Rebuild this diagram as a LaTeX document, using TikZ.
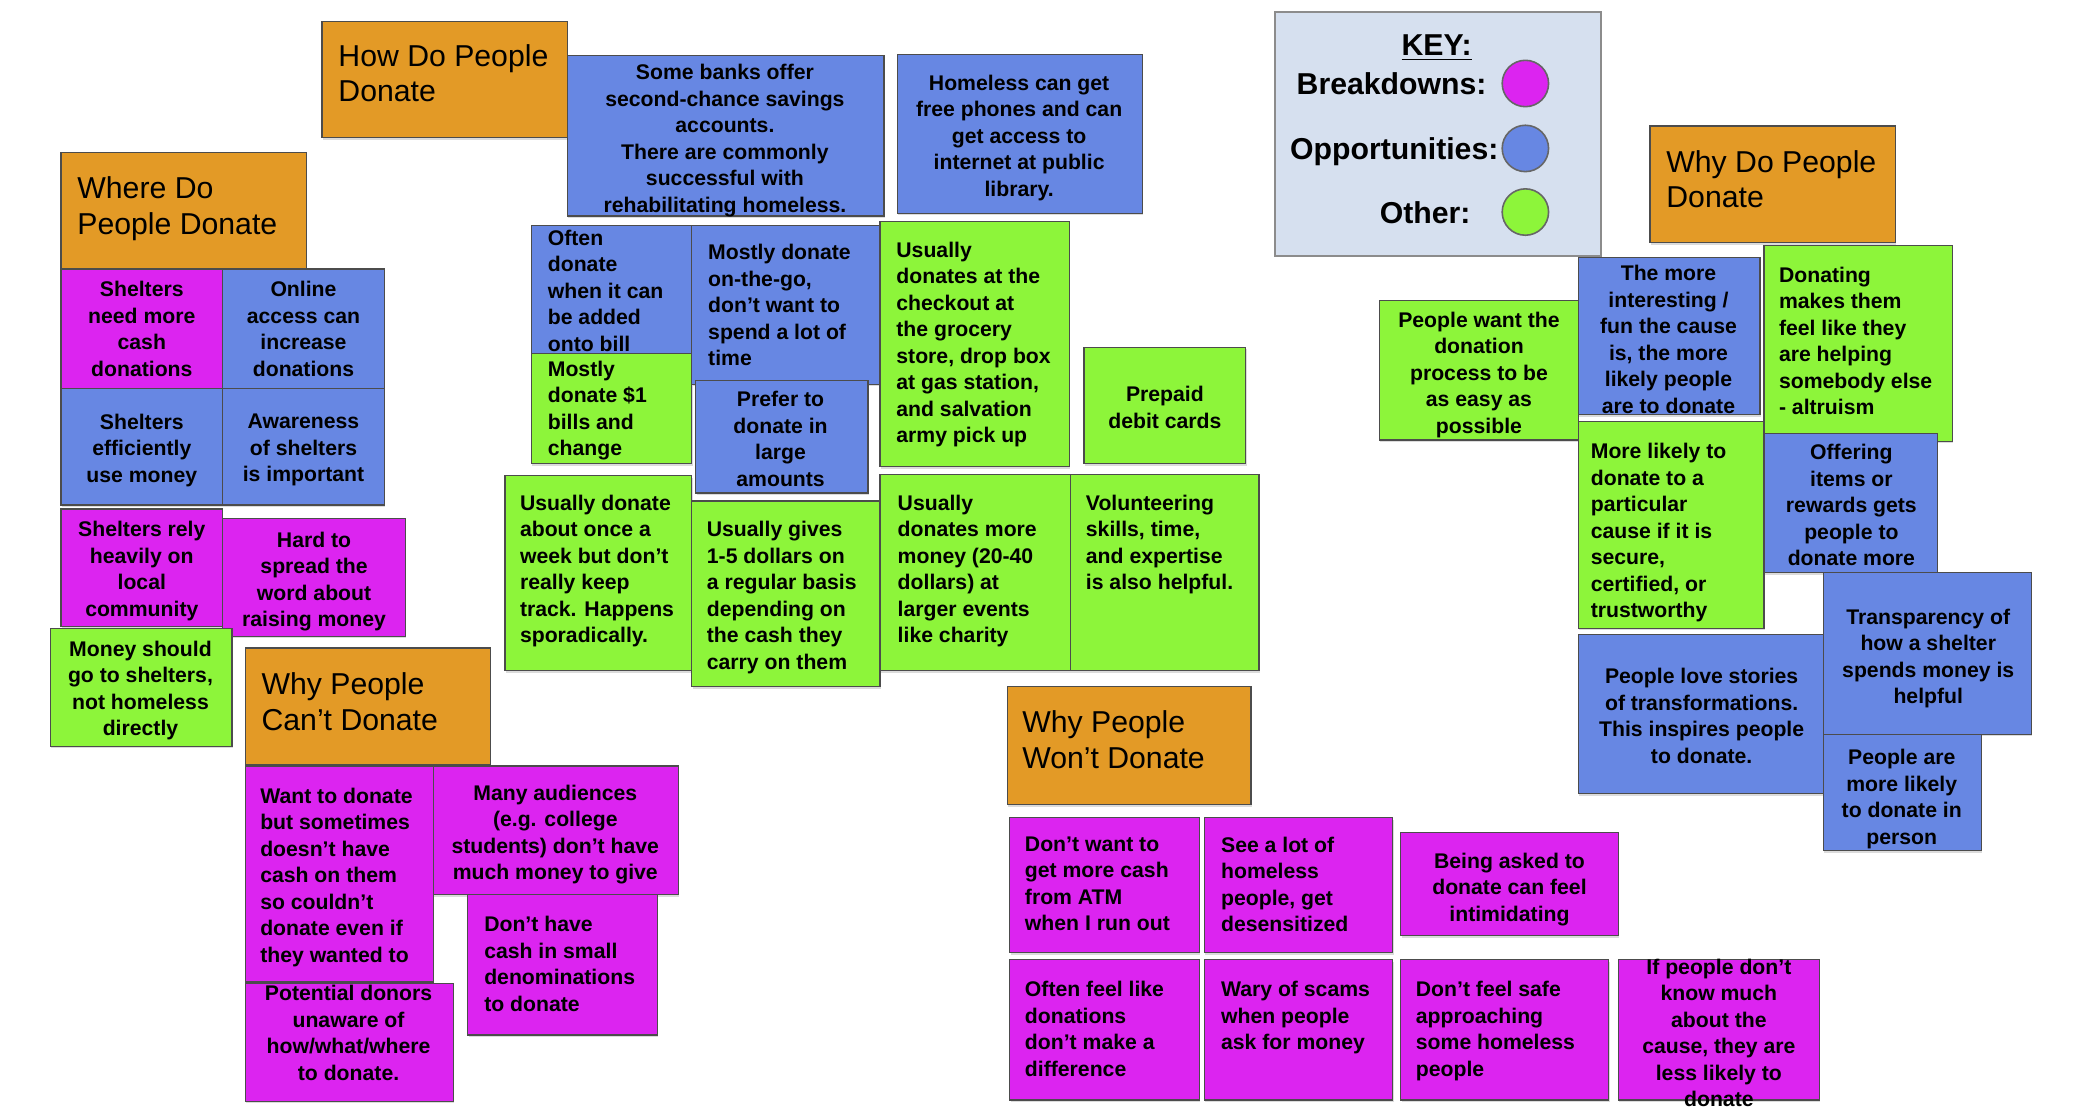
\documentclass[tikz,border=0pt]{standalone}
\usepackage{fontspec}
\setmainfont{Liberation Sans}
\usetikzlibrary{fit,shadows}

\definecolor{headorange}{RGB}{227,154,38}
\definecolor{brkmag}{RGB}{220,36,240}
\definecolor{oppblue}{RGB}{103,135,227}
\definecolor{othgreen}{RGB}{141,245,58}
\definecolor{keybg}{RGB}{214,224,239}

\newcommand\notefont{\bfseries\fontsize{8}{10}\selectfont}
\newcommand\headfont{\fontsize{11.4}{13.5}\selectfont}
\newcommand\keyfont{\bfseries\fontsize{11.4}{13.5}\selectfont}

\begin{document}
\begin{tikzpicture}[x=0.5pt,y=-0.5pt,
  card/.style={draw=black!70, line width=0.45pt, inner sep=0pt, outer sep=0pt,
    drop shadow={shadow xshift=0.3pt, shadow yshift=-0.8pt, opacity=0.28}},
  head/.style={card, fill=headorange},
  brk/.style={card, fill=brkmag},
  opp/.style={card, fill=oppblue},
  oth/.style={card, fill=othgreen},
  txc/.style={font=\notefont, align=center, anchor=north, inner sep=0pt},
  txl/.style={font=\notefont, align=left, anchor=north west, inner sep=0pt},
  txh/.style={font=\headfont, align=left, anchor=north west, inner sep=0pt},
  keytext/.style={font=\keyfont, anchor=base east, inner sep=0pt},
  swatch/.style={circle, draw=black!60, line width=0.6pt, minimum size=17.5pt, inner sep=0pt}
]
% page
\fill[white] (0,0) rectangle (1568,841);
\useasboundingbox (0,0) rectangle (1568,841);

% ---------------- How do people donate ----------------
\node[head, fit={(243,16) (428,104)}] (hHow) {};
\node[txh] (hHow-t) at (255,33) {How Do People\\Donate};

\node[opp, fit={(428,42) (667,163)}] (oBanks) {};
\node[txc] (oBanks-t) at (547,48) {Some banks offer\\second-chance savings\\accounts.\\There are commonly\\successful with\\rehabilitating homeless.};

\node[opp, fit={(677,41) (862,161)}] (oPhones) {};
\node[txc] (oPhones-t) at (769,56) {Homeless can get\\free phones and can\\get access to\\internet at public\\library.};

\node[opp, fit={(401,170) (522,267)}] (oBill) {};
\node[txl] (oBill-t) at (413,173) {Often\\donate\\when it can\\be added\\onto bill};

\node[oth, fit={(401,267) (522,350)}] (gDollar) {};
\node[txl] (gDollar-t) at (413,272) {Mostly\\donate \$1\\bills and\\change};

\node[opp, fit={(522,170) (664,290)}] (oGo) {};
\node[txl] (oGo-t) at (534,184) {Mostly donate\\on-the-go,\\don't want to\\spend a lot of\\time};

\node[opp, fit={(525,287) (655,372)}] (oLarge) {};
\node[txc] (oLarge-t) at (589,295) {Prefer to\\donate in\\large\\amounts};

\node[oth, fit={(664,167) (807,352)}] (gCheckout) {};
\node[txl] (gCheckout-t) at (676,182) {Usually\\donates at the\\checkout at\\the grocery\\store, drop box\\at gas station,\\and salvation\\army pick up};

\node[oth, fit={(818,262) (940,350)}] (gPrepaid) {};
\node[txc] (gPrepaid-t) at (879,291) {Prepaid\\debit cards};

\node[oth, fit={(381,359) (522,506)}] (gWeekly) {};
\node[txl] (gWeekly-t) at (392,373) {Usually donate\\about once a\\week but don't\\really keep\\track. Happens\\sporadically.};

\node[oth, fit={(522,378) (664,518)}] (gRegular) {};
\node[txl] (gRegular-t) at (533,393) {Usually gives\\1-5 dollars on\\a regular basis\\depending on\\the cash they\\carry on them};

\node[oth, fit={(664,358) (808,506)}] (gEvents) {};
\node[txl] (gEvents-t) at (677,373) {Usually\\donates more\\money (20-40\\dollars) at\\larger events\\like charity};

\node[oth, fit={(808,358) (950,506)}] (gVolunteer) {};
\node[txl] (gVolunteer-t) at (819,373) {Volunteering\\skills, time,\\and expertise\\is also helpful.};

% ---------------- Where do people donate ----------------
\node[head, fit={(46,115) (231,203)}] (hWhere) {};
\node[txh] (hWhere-t) at (58,133) {Where Do\\People Donate};

\node[brk, fit={(46,203) (168,293)}] (bCash) {};
\node[txc] (bCash-t) at (107,212) {Shelters\\need more\\cash\\donations};

\node[opp, fit={(168,203) (290,293)}] (oOnline) {};
\node[txc] (oOnline-t) at (229,212) {Online\\access can\\increase\\donations};

\node[opp, fit={(46,293) (168,381)}] (oEff) {};
\node[txc] (oEff-t) at (107,312) {Shelters\\efficiently\\use money};

\node[opp, fit={(168,293) (290,381)}] (oAware) {};
\node[txc] (oAware-t) at (229,312) {Awareness\\of shelters\\is important};

\node[brk, fit={(46,384) (168,473)}] (bLocal) {};
\node[txc] (bLocal-t) at (107,393) {Shelters rely\\heavily on\\local\\community};

\node[brk, fit={(168,391) (306,480)}] (bWord) {};
\node[txc] (bWord-t) at (237,401) {Hard to\\spread the\\word about\\raising money};

\node[oth, fit={(38,474) (175,563)}] (gDirect) {};
\node[txc] (gDirect-t) at (106,483) {Money should\\go to shelters,\\not homeless\\directly};

% ---------------- Why people can't donate ----------------
\node[head, fit={(185,489) (370,577)}] (hCant) {};
\node[txh] (hCant-t) at (197,507) {Why People\\Can't Donate};

\node[brk, fit={(185,578) (327,741)}] (bWant) {};
\node[txl] (bWant-t) at (196,594) {Want to donate\\but sometimes\\doesn't have\\cash on them\\so couldn't\\donate even if\\they wanted to};

\node[brk, fit={(327,578) (512,675)}] (bAud) {};
\node[txc] (bAud-t) at (419,592) {Many audiences\\(e.g. college\\students) don't have\\much money to give};

\node[brk, fit={(353,675) (496,781)}] (bSmall) {};
\node[txl] (bSmall-t) at (365,691) {Don't have\\cash in small\\denominations\\to donate};

\node[brk, fit={(185,742) (342,831)}] (bUnaware) {};
\node[txc] (bUnaware-t) at (263,743) {Potential donors\\unaware of\\how/what/where\\to donate.};

% ---------------- Why people won't donate ----------------
\node[head, fit={(760,518) (944,607)}] (hWont) {};
\node[txh] (hWont-t) at (771,536) {Why People\\Won't Donate};

\node[brk, fit={(762,617) (905,719)}] (bATM) {};
\node[txl] (bATM-t) at (773,631) {Don't want to\\get more cash\\from ATM\\when I run out};

\node[brk, fit={(909,617) (1051,719)}] (bDesens) {};
\node[txl] (bDesens-t) at (921,631) {See a lot of\\homeless\\people, get\\desensitized};

\node[brk, fit={(1057,628) (1221,706)}] (bIntim) {};
\node[txc] (bIntim-t) at (1139,643) {Being asked to\\donate can feel\\intimidating};

\node[brk, fit={(762,724) (905,830)}] (bDiff) {};
\node[txl] (bDiff-t) at (773,740) {Often feel like\\donations\\don't make a\\difference};

\node[brk, fit={(909,724) (1051,830)}] (bScam) {};
\node[txl] (bScam-t) at (921,740) {Wary of scams\\when people\\ask for money};

\node[brk, fit={(1057,724) (1214,830)}] (bSafe) {};
\node[txl] (bSafe-t) at (1068,740) {Don't feel safe\\approaching\\some homeless\\people};

\node[brk, fit={(1221,724) (1373,830)}] (bCause) {};
\node[txc] (bCause-t) at (1297,723) {If people don't\\know much\\about the\\cause, they are\\less likely to\\donate};

% ---------------- Why do people donate ----------------
\node[head, fit={(1245,95) (1430,183)}] (hWhy) {};
\node[txh] (hWhy-t) at (1257,113) {Why Do People\\Donate};

\node[oth, fit={(1041,227) (1191,332)}] (gEasy) {};
\node[txc] (gEasy-t) at (1116,235) {People want the\\donation\\process to be\\as easy as\\possible};

\node[opp, fit={(1191,194) (1328,313)}] (oFun) {};
\node[txc] (oFun-t) at (1259,200) {The more\\interesting /\\fun the cause\\is, the more\\likely people\\are to donate};

\node[oth, fit={(1331,185) (1473,333)}] (gAltru) {};
\node[txl] (gAltru-t) at (1342,201) {Donating\\makes them\\feel like they\\are helping\\somebody else\\- altruism};

\node[oth, fit={(1191,318) (1331,474)}] (gTrust) {};
\node[txl] (gTrust-t) at (1200,334) {More likely to\\donate to a\\particular\\cause if it is\\secure,\\certified, or\\trustworthy};

\node[opp, fit={(1331,327) (1462,432)}] (oReward) {};
\node[txc] (oReward-t) at (1397,335) {Offering\\items or\\rewards gets\\people to\\donate more};

\node[opp, fit={(1191,479) (1376,599)}] (oStories) {};
\node[txc] (oStories-t) at (1284,504) {People love stories\\of transformations.\\This inspires people\\to donate.};

\node[opp, fit={(1376,432) (1533,554)}] (oTransp) {};
\node[txc] (oTransp-t) at (1455,459) {Transparency of\\how a shelter\\spends money is\\helpful};

\node[opp, fit={(1376,554) (1495,642)}] (oPerson) {};
\node[txc] (oPerson-t) at (1435,565) {People are\\more likely\\to donate in\\person};

% ---------------- Key ----------------
\node[draw=black!45, line width=0.9pt, fill=keybg, inner sep=0pt, fit={(962,9) (1208,193)}] (key) {};
\node[font=\keyfont, anchor=base, inner sep=0pt] (keyTitle) at (1084,42) {\underline{KEY:}};
\node[keytext] (keyBrk) at (1122,71) {Breakdowns:};
\node[keytext] (keyOpp) at (1131,120) {Opportunities:};
\node[keytext] (keyOth) at (1110,169) {Other:};
\node[swatch, fill=brkmag] (swBrk) at (1151,63) {};
\node[swatch, fill=oppblue] (swOpp) at (1151,112) {};
\node[swatch, fill=othgreen] (swOth) at (1151,160) {};
\end{tikzpicture}
\end{document}
